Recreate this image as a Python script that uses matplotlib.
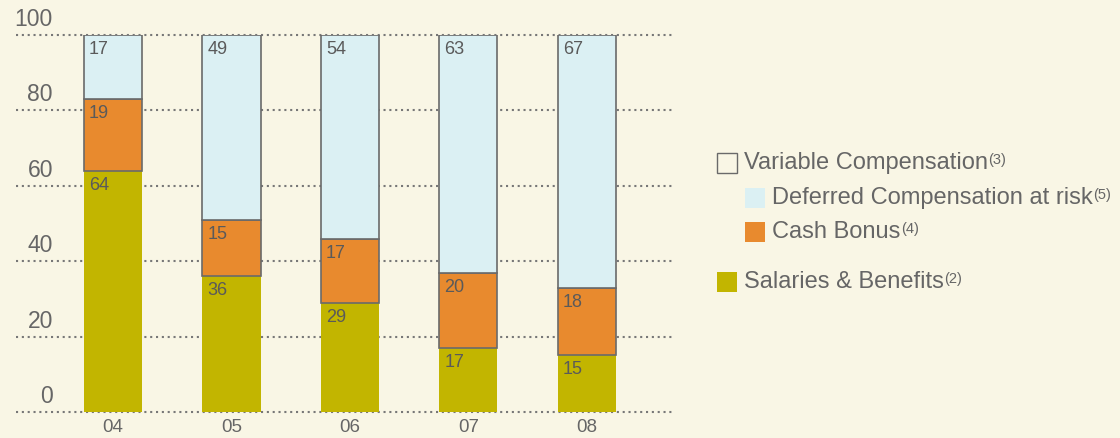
import matplotlib
matplotlib.use("Agg")
import matplotlib.pyplot as plt
from matplotlib.patches import Rectangle

years = ["04", "05", "06", "07", "08"]
salaries = [64, 36, 29, 17, 15]
cash_bonus = [19, 15, 17, 20, 18]
deferred = [17, 49, 54, 63, 67]
yticks = [0, 20, 40, 60, 80, 100]

BG = "#F9F6E5"
OLIVE = "#C2B500"
ORANGE = "#E88A2E"
LBLUE = "#DBF0F3"
EDGE = "#6A6A6A"
TXT = "#666666"
FONT = "Liberation Sans"

plt.rcParams["font.family"] = [FONT, "DejaVu Sans"]

W, H = 1120, 438
fig = plt.figure(figsize=(W / 100, H / 100), dpi=100, facecolor=BG)
ax = fig.add_axes([16 / W, 26 / H, (672 - 16) / W, (403 - 26) / H])
ax.set_facecolor(BG)
ax.set_xlim(-0.82, 4.72)
ax.set_ylim(0, 100)
for s in ax.spines.values():
    s.set_visible(False)
ax.set_yticks([])
ax.set_xticks(range(len(years)))
ax.set_xticklabels(years, fontsize=13.5, color=TXT)
ax.tick_params(axis="x", length=0, pad=5)

for v in yticks:
    ax.axhline(v, color="#777777", lw=1.5, linestyle=(0, (1, 1.8)), zorder=1, clip_on=False)
    ax.annotate(str(v), xy=(0, v), xycoords=("axes fraction", "data"),
                xytext=(37, 4), textcoords="offset pixels", ha="right", va="bottom",
                fontsize=16.5, color=TXT)

x = list(range(len(years)))
bw = 0.49
ax.bar(x, salaries, width=bw, color=OLIVE, zorder=2, linewidth=0)
ax.bar(x, cash_bonus, width=bw, bottom=salaries, color=ORANGE, edgecolor=EDGE, linewidth=1.2, zorder=3)
bottoms2 = [a + b for a, b in zip(salaries, cash_bonus)]
ax.bar(x, deferred, width=bw, bottom=bottoms2, color=LBLUE, edgecolor=EDGE, linewidth=1.2, zorder=3)

for i in x:
    left = i - bw / 2
    for val, top in ((salaries[i], salaries[i]), (cash_bonus[i], bottoms2[i]), (deferred[i], bottoms2[i] + deferred[i])):
        ax.annotate(str(val), xy=(left, top), xytext=(5, -6), textcoords="offset pixels",
                    ha="left", va="top", fontsize=13, color="#5A5A5A", zorder=5)

# legend
renderer = fig.canvas.get_renderer()

def legend_item(xsq, ycen, fill, edge, label, sup):
    fig.patches.append(Rectangle((xsq / W, (H - ycen - 10) / H), 20 / W, 20 / H,
                                 transform=fig.transFigure, facecolor=fill,
                                 edgecolor=edge, linewidth=1.0 if edge != "none" else 0))
    t = fig.text((xsq + 27) / W, (H - ycen) / H, label, fontsize=17, color=TXT,
                 ha="left", va="center")
    bb = t.get_window_extent(renderer)
    fig.text(bb.x1 / W + 0.5 / W, (H - ycen + 3) / H, sup, fontsize=10.5, color=TXT,
             ha="left", va="center")

legend_item(717, 163, BG, EDGE, "Variable Compensation", "(3)")
legend_item(745, 198, LBLUE, "none", "Deferred Compensation at risk", "(5)")
legend_item(745, 232, ORANGE, "none", "Cash Bonus", "(4)")
legend_item(717, 282, OLIVE, "none", "Salaries & Benefits", "(2)")

fig.savefig("out.png", dpi=100, facecolor=BG)
